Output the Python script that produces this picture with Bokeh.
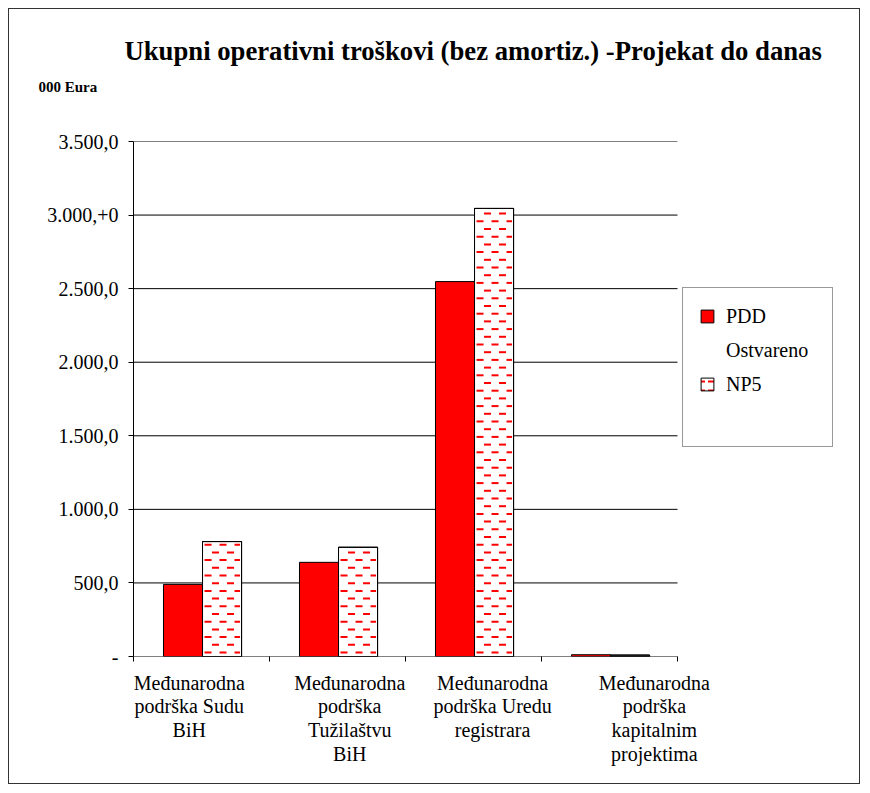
import numpy as np
from bokeh.plotting import figure
from bokeh.models import (ColumnDataSource, FixedTicker, Legend, LegendItem,
                          Title, Range1d)
from bokeh.embed import file_html
from bokeh.resources import INLINE

# ---- data ----
categories = [
    "Međunarodna\npodrška Sudu\nBiH",
    "Međunarodna\npodrška\nTužilaštvu\nBiH",
    "Međunarodna\npodrška Uredu\nregistrara",
    "Međunarodna\npodrška\nkapitalnim\nprojektima",
]
pdd_ostvareno = [490, 640, 2548, 12]
np5 = [781, 742, 3045, 9]
y_ticks = [0, 500, 1000, 1500, 2000, 2500, 3000, 3500]
y_tick_labels = ["-", "500,0", "1.000,0", "1.500,0", "2.000,0",
                 "2.500,0", "3.000,+0", "3.500,0"]
legend_lines = ["PDD", "Ostvareno", "NP5"]

FONT = "Liberation Serif"

# ---- layout constants (pixels) ----
W, H = 852, 776
LEFT, TOP, BOTTOM = 124, 132, 129
CAT_PX = 136                      # width of one category in pixels
n = len(categories)
frame_w = W - LEFT
x_end = frame_w / CAT_PX          # frame extends right so the legend can sit in it
y_max = y_ticks[-1]
px_per_y = (H - TOP - BOTTOM) / y_max

idx = np.arange(n)
bar_w = 0.287
x_pdd = idx + 0.364
x_np5 = idx + 0.651
src = ColumnDataSource(dict(x1=x_pdd, x2=x_np5, pdd=pdd_ostvareno, np5=np5))

p = figure(width=W, height=H,
           x_range=Range1d(0, x_end), y_range=Range1d(0, y_max),
           output_backend="svg", toolbar_location=None,
           min_border_left=LEFT, min_border_right=0,
           min_border_top=TOP, min_border_bottom=BOTTOM)
p.styles = {"border": "1px solid #333", "margin": "8px 0 0 8px"}
p.outline_line_color = None
p.background_fill_color = "white"
p.border_fill_color = "white"

# grid lines (only over the category area)
p.segment(x0=0, x1=n, y0=y_ticks[1:], y1=y_ticks[1:],
          line_color="black", line_width=1)
# x axis line over the category area
p.segment(x0=[0], x1=[n], y0=[0], y1=[0], line_color="black", line_width=1)

r1 = p.vbar(x="x1", top="pdd", width=bar_w, source=src,
            fill_color="#FF0000", line_color="black", line_width=1)
# hatched NP5 bars (used for the legend swatch; covered by the finer pattern below)
r_leg = p.vbar(x="x2", top="np5", width=bar_w, source=src, fill_color="white",
               line_color="black", line_width=1,
               hatch_pattern="horizontal_dash", hatch_color="#FF0000",
               hatch_scale=9, hatch_weight=2)
p.vbar(x="x2", top="np5", width=bar_w, source=src,
       fill_color="white", line_color="black", line_width=1)

# staggered red dash pattern inside the NP5 bars
dash_period = 15 / CAT_PX
dash_len = 7 / CAT_PX
row_step = 7.7 / px_per_y
dx0, dx1, dy = [], [], []
for xc, top in zip(x_np5, np5):
    left, right = xc - bar_w / 2, xc + bar_w / 2
    yrow = 4 / px_per_y
    k = 0
    while yrow < top - 2 / px_per_y:
        phase = (k % 2) * dash_period / 2
        s = left - dash_period + phase + 2 / CAT_PX
        while s < right:
            a, b = max(s, left + 1.5 / CAT_PX), min(s + dash_len, right - 1.5 / CAT_PX)
            if b - a > 0.5 / CAT_PX:
                dx0.append(a); dx1.append(b); dy.append(yrow)
            s += dash_period
        yrow += row_step
        k += 1
p.segment(x0=dx0, x1=dx1, y0=dy, y1=dy, line_color="#FF0000",
          line_width=2, line_cap="butt")

# outlines on top
p.vbar(x="x2", top="np5", width=bar_w, source=src,
       fill_color=None, line_color="black", line_width=1)

# invisible renderer for text-only legend rows
r_inv = p.vbar(x="x1", top="pdd", width=bar_w, source=src,
               fill_alpha=0, line_alpha=0)

# y axis
p.yaxis.ticker = FixedTicker(ticks=y_ticks, minor_ticks=[])
p.yaxis.major_label_overrides = {t: l for t, l in zip(y_ticks, y_tick_labels)}
p.yaxis.major_label_text_font = FONT
p.yaxis.major_label_text_font_size = "20px"
p.yaxis.major_label_text_color = "black"
p.yaxis.major_tick_out = 5
p.yaxis.major_tick_in = 0
p.yaxis.major_label_standoff = 10
p.yaxis.axis_line_color = "black"
p.yaxis.major_tick_line_color = "black"

# x axis
label_pos = [0.41, 1.59, 2.64, 3.83]
p.xaxis.ticker = FixedTicker(ticks=label_pos, minor_ticks=list(range(n + 1)))
p.xaxis.major_label_overrides = {t: c for t, c in zip(label_pos, categories)}
p.xaxis.major_label_text_font = FONT
p.xaxis.major_label_text_font_size = "20px"
p.xaxis.major_label_text_color = "black"
p.xaxis.major_label_text_line_height = 1.08
p.xaxis.major_tick_out = 0
p.xaxis.major_tick_in = 0
p.xaxis.minor_tick_out = 5
p.xaxis.minor_tick_in = 0
p.xaxis.minor_tick_line_color = "black"
p.xaxis.major_label_standoff = 10
p.xaxis.axis_line_color = None

p.xgrid.visible = False
p.ygrid.visible = False

# titles: main title outermost; extra panels listed from the frame outward
p.title.text = "Ukupni operativni troškovi (bez amortiz.) -Projekat do danas"
p.title.text_font = FONT
p.title.text_font_size = "26.7px"
p.title.text_font_style = "bold"
p.title.text_color = "black"
p.title.align = "left"
p.title.offset = -9
p.title.standoff = 0
p.add_layout(Title(text=" ", text_font=FONT, text_font_size="1px",
                   standoff=32), "above")
p.add_layout(Title(text="000 Eura", text_font=FONT, text_font_size="15px",
                   text_font_style="bold", text_color="black",
                   align="left", offset=-95, standoff=23), "above")

legend = Legend(items=[LegendItem(label=legend_lines[0], renderers=[r1]),
                       LegendItem(label=legend_lines[1], renderers=[r_inv]),
                       LegendItem(label=legend_lines[2], renderers=[r_leg]),
                       LegendItem(label=" ", renderers=[r_inv])],
                location=(n * CAT_PX + 5, 209), margin=0)
legend.label_text_font = FONT
legend.label_text_font_size = "20px"
legend.label_text_color = "black"
legend.glyph_width = 16
legend.glyph_height = 16
legend.label_height = 24
legend.label_standoff = 11
legend.padding = 16
legend.spacing = 10
legend.label_width = 90
legend.border_line_color = "#333"
legend.border_line_width = 1
legend.background_fill_alpha = 1
p.add_layout(legend, "center")

open("out.html", "w").write(file_html(p, INLINE))
